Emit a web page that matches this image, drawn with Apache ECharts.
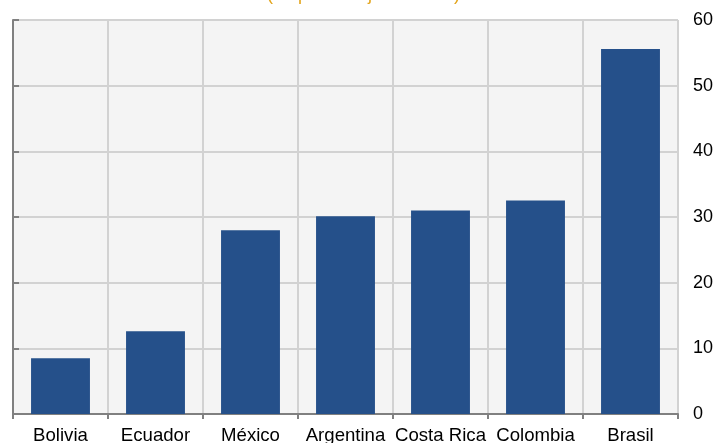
<!DOCTYPE html>
<html>
<head>
<meta charset="utf-8">
<script src="https://cdn.jsdelivr.net/npm/echarts@6/dist/echarts.min.js"></script>
<style>
  html, body { margin: 0; padding: 0; background: #ffffff; }
  #chart { width: 718px; height: 443px; }
</style>
</head>
<body>
<div id="chart"></div>
<script>
// Países ordenados de menor a mayor
const countries = ['Bolivia', 'Ecuador', 'México', 'Argentina', 'Costa Rica', 'Colombia', 'Brasil'];
// Valores en porcentaje del PIB
const values = [8.5, 12.6, 28.0, 30.1, 31.0, 32.5, 55.6];
// Escala del eje vertical
const yMin = 0;
const yMax = 60;
const yStep = 10;

const chart = echarts.init(document.getElementById('chart'), null, { renderer: 'canvas' });
const font = 'Liberation Sans, Arial, sans-serif';

chart.setOption({
  animation: false,
  backgroundColor: '#ffffff',
  title: {
    text: '(en porcentajes del PIB)',
    left: 267,
    top: -14,
    padding: 0,
    textStyle: { color: '#E3A51C', fontSize: 18, fontWeight: 'normal', fontFamily: font }
  },
  grid: {
    left: 13, right: 40, top: 20, bottom: 29,
    containLabel: false,
    outerBoundsMode: 'none',
    show: true, backgroundColor: '#f4f4f4', borderWidth: 0
  },
  xAxis: {
    type: 'category',
    data: countries,
    axisLine: { show: true, lineStyle: { color: '#808080', width: 2 } },
    axisTick: { show: true, alignWithLabel: false, length: 5, lineStyle: { color: '#808080', width: 2 } },
    axisLabel: { color: '#000000', fontSize: 18.6, fontFamily: font, margin: 12, interval: 0 },
    splitLine: { show: true, lineStyle: { color: '#d2d2d2', width: 2 } }
  },
  yAxis: [
    {
      type: 'value',
      position: 'right',
      min: yMin, max: yMax, interval: yStep,
      axisLine: { show: false },
      axisTick: { show: false },
      axisLabel: { color: '#000000', fontSize: 18, fontFamily: font, margin: 15, align: 'left' },
      splitLine: { show: true, lineStyle: { color: '#d2d2d2', width: 2 } }
    },
    {
      type: 'value',
      position: 'left',
      min: yMin, max: yMax, interval: yStep,
      axisLine: { show: true, lineStyle: { color: '#808080', width: 2 } },
      axisTick: { show: true, inside: true, length: 6, lineStyle: { color: '#808080', width: 2 } },
      axisLabel: { show: false },
      splitLine: { show: false }
    }
  ],
  series: [{
    type: 'bar',
    data: values,
    yAxisIndex: 0,
    barWidth: '62%',
    itemStyle: { color: '#25508A' }
  }]
});
</script>
</body>
</html>
